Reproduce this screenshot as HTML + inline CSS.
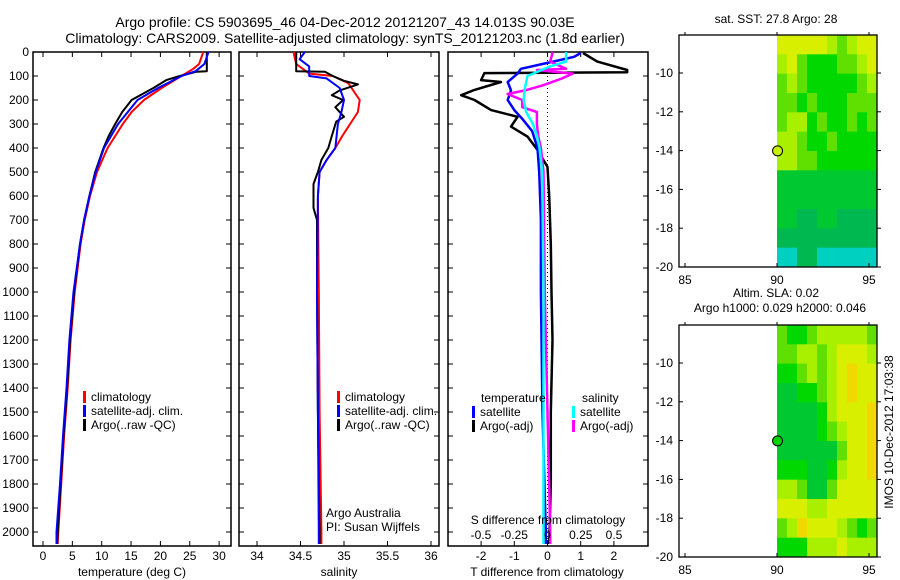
<!DOCTYPE html>
<html><head><meta charset="utf-8">
<style>
html,body{margin:0;padding:0;background:#fff;}
svg{display:block;font-family:"Liberation Sans",sans-serif;}
</style></head>
<body>
<svg id="chart" width="900" height="580" viewBox="0 0 900 580" xmlns="http://www.w3.org/2000/svg">
<rect x="0" y="0" width="900" height="580" fill="#fff"/>
<text x="345" y="27" font-size="14" text-anchor="middle">Argo profile: CS 5903695_46 04-Dec-2012 20121207_43 14.013S 90.03E</text>
<text x="345" y="43" font-size="14" text-anchor="middle">Climatology: CARS2009. Satellite-adjusted climatology: synTS_20121203.nc (1.8d earlier)</text>
<g id="g"></g>
</svg>
<script>
// ---- data ----
const tempArgoDepth = [0,80,82,100,117,150,200,250,300,350,400,450,500,600,700,800,900,1000,1200,1400,1600,1800,2000,2050];
const tempArgoVal   = [27.9,27.9,26.2,23.3,21,18.8,15.1,13.5,12.3,11.2,10.3,9.6,8.9,7.9,7.0,6.3,5.8,5.3,4.6,4.1,3.5,3.0,2.5,2.4];
const tempClimDepth = [0,50,70,100,150,200,250,300,400,500,600,700,800,1000,1200,1400,1600,1800,2000,2050];
const tempClimVal   = [27.3,26.6,25.6,23.6,20.2,17.2,15.1,13.6,11.0,9.2,8.0,7.1,6.4,5.4,4.7,4.2,3.6,3.1,2.6,2.5];
const tempSatDepth  = [0,50,80,100,150,200,300,400,500,600,700,800,1000,1200,1400,1600,1800,2000,2050];
const tempSatVal    = [28.2,27.5,26.0,23.6,19.6,16.1,12.8,10.4,9.0,7.9,7.0,6.3,5.2,4.5,4.0,3.4,2.9,2.3,2.3];

const salArgoDepth = [0,80,82,100,120,135,160,180,200,230,270,290,350,400,450,500,550,650,700,1000,1500,2000,2050];
const salArgoVal   = [34.45,34.45,34.78,34.87,35.0,35.16,34.95,34.86,34.99,34.9,35.0,34.91,34.86,34.82,34.74,34.7,34.65,34.65,34.69,34.69,34.70,34.72,34.72];
const salClimDepth = [0,50,90,100,130,200,250,300,350,400,450,500,600,1000,1500,2000,2050];
const salClimVal   = [34.42,34.45,34.6,34.87,35.05,35.18,35.16,35.07,34.98,34.9,34.8,34.72,34.7,34.71,34.72,34.74,34.74];
const salSatDepth  = [0,30,60,100,110,150,200,250,300,400,450,500,600,1000,1500,2000,2050];
const salSatVal    = [34.55,34.49,34.6,34.6,34.8,34.95,35.0,34.97,34.93,34.9,34.8,34.72,34.7,34.69,34.70,34.71,34.71];

const dTArgoDepth = [4,40,75,84,88,117,125,158,180,200,242,270,311,353,408,479,600,800,1000,1200,1500,1800,2050];
const dTArgoVal   = [1.07,1.5,2.4,2.4,-1.9,-2.0,-1.4,-2.2,-2.6,-2.2,-1.7,-0.9,-1.1,-0.6,-0.3,0.0,0.05,0.1,0.12,0.15,0.1,0.1,0.05];
const dTSatDepth  = [4,20,40,70,90,125,160,200,242,280,330,400,500,700,1000,1500,2000,2050];
const dTSatVal    = [1.0,0.8,0.17,-0.8,-0.9,-1.2,-1.1,-1.2,-1.0,-0.75,-0.46,-0.3,-0.25,-0.2,-0.2,-0.15,-0.05,-0.05];
const dSSatDepth  = [0,40,60,100,150,200,250,300,350,400,500,1000,2000,2050];
const dSSatVal    = [0.14,0.14,0.02,-0.15,-0.17,-0.18,-0.16,-0.11,-0.08,-0.06,-0.04,-0.03,-0.03,-0.03];
const dSArgoDepth = [0,40,70,75,90,110,140,160,175,200,230,250,300,350,400,500,1000,2000,2050];
const dSArgoVal   = [0.04,0.02,0.14,-0.08,0.19,0.11,-0.04,-0.17,-0.3,-0.19,-0.19,-0.08,-0.08,-0.07,-0.05,-0.03,-0.02,0.02,0.02];

const depthTicks = [0,100,200,300,400,500,600,700,800,900,1000,1100,1200,1300,1400,1500,1600,1700,1800,1900,2000];
const tempTicks = [0,5,10,15,20,25,30];
const salTicks = [34,34.5,35,35.5,36];
const dTTicks = [-2,-1,0,1,2];
const dSTicks = [-0.5,-0.25,0,0.25,0.5];
const dSTickLabels = ["-0.5","-0.25","0","0.25","0.5"];

const latTicks = [-10,-12,-14,-16,-18,-20];
const lonTicks = [85,90,95];
const palette = ["#00d0c0","#00b850","#00c830","#00d800","#60e000","#a8f000","#d8f000","#f0d800"];
const sstGrid = [
 [6,6,6,6,6,5,4,5,6,6],
 [5,6,4,3,3,3,4,4,5,6],
 [4,5,4,3,3,3,3,3,4,5],
 [4,4,3,4,3,3,3,4,4,4],
 [4,5,5,3,4,3,3,4,3,4],
 [5,5,4,3,3,4,3,3,3,3],
 [5,5,4,4,3,3,3,3,3,3],
 [2,2,2,2,2,2,2,2,2,2],
 [2,2,2,2,2,2,2,2,2,2],
 [2,2,1,1,2,2,1,1,1,1],
 [1,1,1,1,1,1,1,1,1,1],
 [0,0,1,1,0,0,0,0,0,0]];
const slaGrid = [
 [4,3,3,4,5,5,5,5,5,4],
 [4,4,5,5,4,5,6,6,6,5],
 [3,3,4,5,4,5,6,7,6,6],
 [2,2,3,3,4,5,6,7,6,6],
 [2,2,2,2,3,5,6,6,6,7],
 [2,2,2,2,3,4,5,6,6,7],
 [2,2,2,2,2,2,4,6,6,7],
 [3,3,3,2,2,3,5,6,6,7],
 [5,5,4,2,2,4,6,6,6,6],
 [6,6,6,5,5,6,6,6,6,6],
 [4,5,7,6,6,6,5,4,3,4],
 [3,3,3,5,5,5,6,5,5,5]];
const argoLon = 90.03, argoLat = -14.013;

// ---- helpers ----
const NS="http://www.w3.org/2000/svg";
const G=document.getElementById('g');
function mk(tag,attrs,parent){const e=document.createElementNS(NS,tag);for(const k in attrs)e.setAttribute(k,attrs[k]);(parent||G).appendChild(e);return e;}
const top0=52, bot0=546;
const yD = d => 52 + d*0.24;

function panel(name,x0,x1){
  const g=mk('g',{});
  
  
  mk('rect',{x:x0,y:top0,width:x1-x0,height:bot0-top0,fill:'none',stroke:'#000','stroke-width':1.5},g);
  depthTicks.forEach(d=>{const y=yD(d);
    mk('line',{x1:x0,x2:x0+5,y1:y,y2:y,stroke:'#000'},g);
    mk('line',{x1:x1-5,x2:x1,y1:y,y2:y,stroke:'#000'},g);});
  return g;
}
function line(g,name,depths,vals,fx,color,w){
  const pts=depths.map((d,i)=>fx(vals[i]).toFixed(1)+','+yD(d).toFixed(1)).join(' ');
  const p=mk('polyline',{points:pts,fill:'none',stroke:color,'stroke-width':w||2,'stroke-linejoin':'round'},g);
  
  
}
function xticks(g,ticks,labels,fx,ylab){
  ticks.forEach((t,i)=>{const x=fx(t);
    mk('line',{x1:x,x2:x,y1:top0,y2:top0+5,stroke:'#000'},g);
    mk('line',{x1:x,x2:x,y1:bot0-5,y2:bot0,stroke:'#000'},g);
    const tx=mk('text',{x:x,y:ylab,'font-size':12,'text-anchor':'middle'},g);tx.textContent=labels[i];
    
    });
}
function legend(g,x,y,items){
  items.forEach((it,i)=>{const yy=y+i*14;
    mk('rect',{x:x,y:yy-10,width:3,height:12,fill:it[1]},g);
    const t=mk('text',{x:x+8,y:yy,'font-size':12},g);t.textContent=it[0];
    
    });
}
function txt(g,x,y,s,name,anchor,size){const t=mk('text',{x:x,y:y,'font-size':size||12,'text-anchor':anchor||'start'},g);t.textContent=s;
  
  return t;}

// ---- panel 1: temperature ----
const fT = v => 43 + v*5.87;
const p1=panel('temperature-panel',33,231);
depthTicks.forEach(d=>{const t=txt(p1,29,yD(d)+4,String(d),'y-tick-label','end');});
xticks(p1,tempTicks,tempTicks.map(String),fT,560);
line(p1,'temp-climatology',tempClimDepth,tempClimVal,fT,'#f00',2);
line(p1,'temp-argo',tempArgoDepth,tempArgoVal,fT,'#000',2);
line(p1,'temp-satellite',tempSatDepth,tempSatVal,fT,'#00f',2);
legend(p1,83,401,[['climatology','#f00'],['satellite-adj. clim.','#00f'],['Argo(..raw -QC)','#000']]);
txt(p1,132,576,'temperature (deg C)','x-axis-title','middle');

// ---- panel 2: salinity ----
const fS = v => 257 + (v-34)*87;
const p2=panel('salinity-panel',239,439);
xticks(p2,salTicks,salTicks.map(String),fS,560);
line(p2,'sal-climatology',salClimDepth,salClimVal,fS,'#f00',2);
line(p2,'sal-argo',salArgoDepth,salArgoVal,fS,'#000',2);
line(p2,'sal-satellite',salSatDepth,salSatVal,fS,'#00f',2);
legend(p2,337,401,[['climatology','#f00'],['satellite-adj. clim.','#00f'],['Argo(..raw -QC)','#000']]);
txt(p2,326,517,'Argo Australia','credit-text');
txt(p2,326,531,'PI: Susan Wijffels','credit-text');
txt(p2,339,576,'salinity','x-axis-title','middle');

// ---- panel 3: differences ----
const fdT = v => 547.5 + v*33.2;
const fdS = v => 547.5 + v*133;
const p3=panel('difference-panel',448,648);
xticks(p3,dTTicks,dTTicks.map(String),fdT,560);
mk('line',{x1:fdT(0),x2:fdT(0),y1:top0,y2:bot0,stroke:'#000','stroke-dasharray':'1,3'},p3);
line(p3,'dT-argo',dTArgoDepth,dTArgoVal,fdT,'#000',2.5);
line(p3,'dT-satellite',dTSatDepth,dTSatVal,fdT,'#00f',2.5);
line(p3,'dS-argo',dSArgoDepth,dSArgoVal,fdS,'#f0f',2.5);
line(p3,'dS-satellite',dSSatDepth,dSSatVal,fdS,'#0ff',2.5);
txt(p3,481,402,'temperature','legend-title');
txt(p3,582,402,'salinity','legend-title');
legend(p3,472,416,[['satellite','#00f'],['Argo(-adj)','#000']]);
legend(p3,572,416,[['satellite','#0ff'],['Argo(-adj)','#f0f']]);
txt(p3,548,524,'S difference from climatology','s-axis-title','middle');
dSTicks.forEach((t,i)=>txt(p3,fdS(t),539,dSTickLabels[i],'s-tick-label','middle'));
txt(p3,547,576,'T difference from climatology','x-axis-title','middle');

// ---- maps ----
function map(name,top,grid,markerFill,title1,title2){
  const g=mk('g',{});
  
  
  const x0=679,x1=877,bot=top+232;
  const fx = lon => 685 + (lon-85)*18.4;
  const fy = lat => top + 38 + (-10-lat)*19.4;
  const nr=grid.length,nc=grid[0].length;
  const lonA=90, lonB=(877-685)/18.4+85, latA=-8.04, latB=-20;
  for(let r=0;r<nr;r++)for(let c=0;c<nc;c++){
    const la0=latA+(latB-latA)*r/nr, la1=latA+(latB-latA)*(r+1)/nr;
    const lo0=lonA+(lonB-lonA)*c/nc, lo1=lonA+(lonB-lonA)*(c+1)/nc;
    const cell=mk('rect',{x:fx(lo0),y:fy(la0),width:fx(lo1)-fx(lo0)+0.5,height:fy(la1)-fy(la0)+0.5,fill:palette[grid[r][c]]},g);
    
    
  }
  mk('rect',{x:x0,y:top,width:x1-x0,height:bot-top,fill:'none',stroke:'#000','stroke-width':1.3},g);
  latTicks.forEach(l=>{const y=fy(l);
    mk('line',{x1:x0,x2:x0+4,y1:y,y2:y,stroke:'#000'},g);
    mk('line',{x1:x1,x2:x1+4,y1:y,y2:y,stroke:'#000'},g);
    txt(g,x0-6,y+4,String(l),'lat-tick-label','end');});
  lonTicks.forEach(l=>{const x=fx(l);
    mk('line',{x1:x,x2:x,y1:bot,y2:bot-4,stroke:'#000'},g);
    mk('line',{x1:x,x2:x,y1:top,y2:top-3,stroke:'#000'},g);
    txt(g,x,bot+17,String(l),'lon-tick-label','middle');});
  const ci=mk('circle',{cx:fx(argoLon),cy:fy(argoLat),r:5,fill:markerFill,stroke:'#000','stroke-width':1},g);
  
  
  if(title2){txt(g,776,top-28,title1,'map-title','middle');txt(g,780,top-13,title2,'map-subtitle','middle');}
  else txt(g,776,top-12,title1,'map-title','middle');
}
map('sst-map',35,sstGrid,'#c8f000','sat. SST: 27.8 Argo: 28');
map('sla-map',325,slaGrid,'#00d000','Altim. SLA: 0.02','Argo h1000: 0.029 h2000: 0.046');
const vt=txt(G,0,0,'IMOS 10-Dec-2012 17:03:38','timestamp-text','middle');
vt.setAttribute('transform','translate(893,432) rotate(-90)');
</script>
</body></html>
